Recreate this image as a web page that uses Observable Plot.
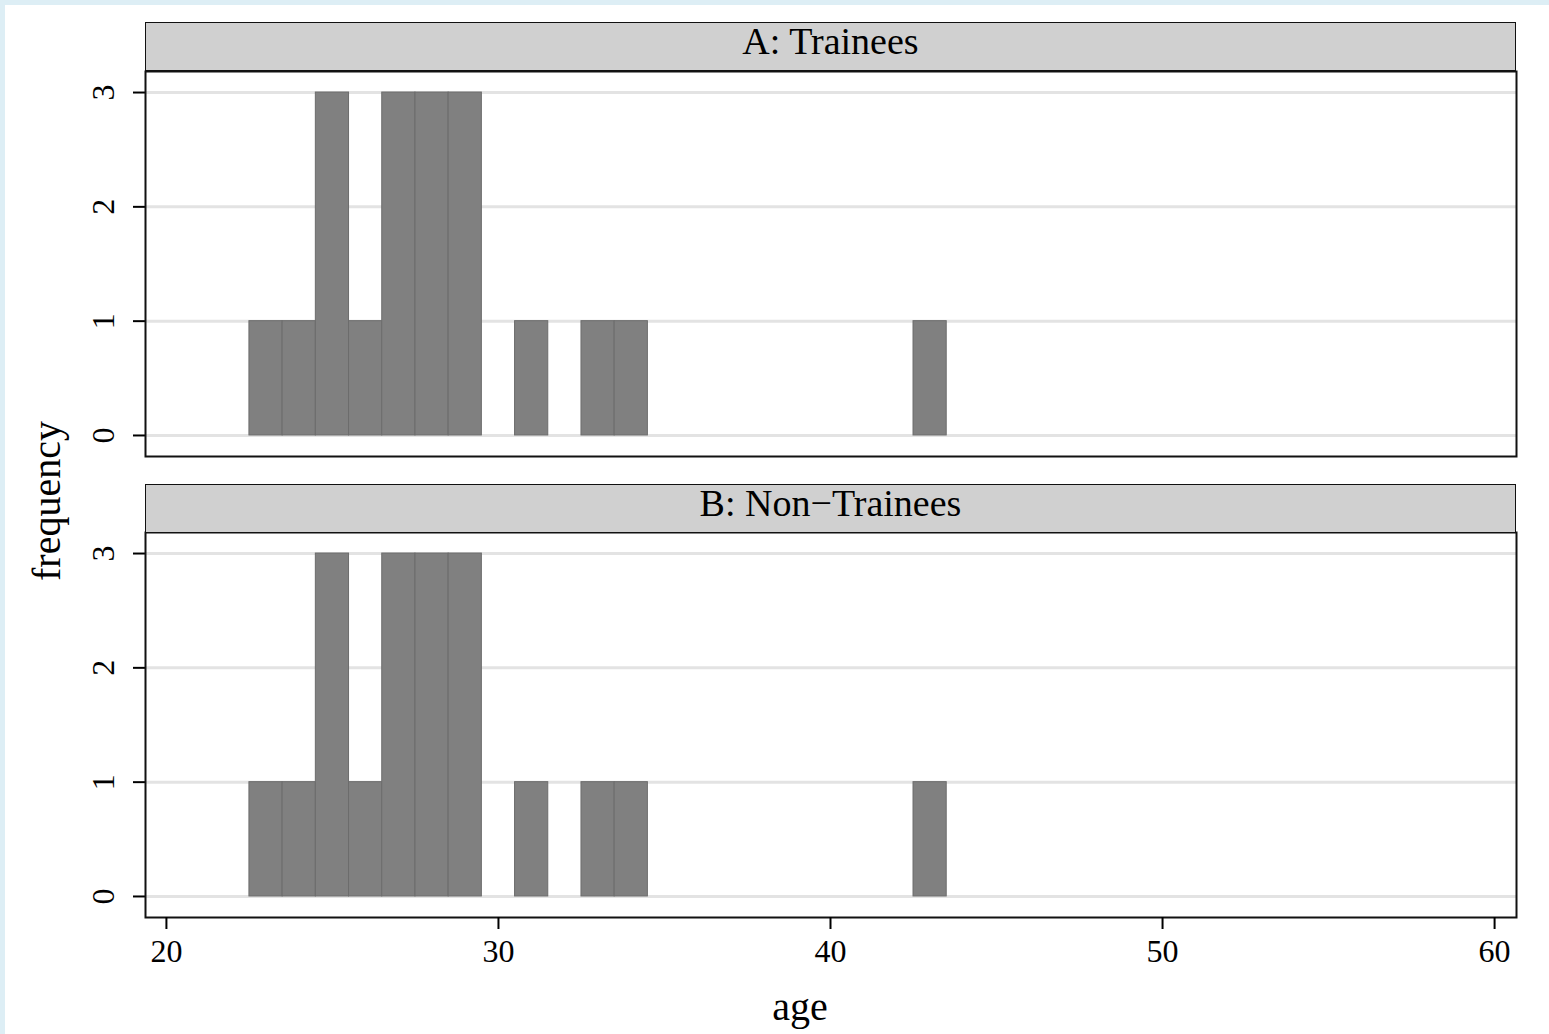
<!DOCTYPE html>
<html>
<head>
<meta charset="utf-8">
<script src="https://cdn.jsdelivr.net/npm/d3@7"></script>
<script src="https://cdn.jsdelivr.net/npm/@observablehq/plot@0.6"></script>
<style>
  html, body { margin: 0; padding: 0; }
  body { background: #ddeef5; width: 1549px; height: 1034px; position: relative; overflow: hidden; font-family: "Liberation Serif", "DejaVu Serif", serif; }
  #paper { position: absolute; left: 5px; top: 5px; width: 1560px; height: 1040px; background: white; }
  .strip { position: absolute; left: 145px; width: 1369px; height: 47px; background: #d0d0d0; border: 1.5px solid #111; box-sizing: content-box; text-align: center; font-size: 38px; line-height: 37px; color: #000; white-space: nowrap; }
  .lab { position: absolute; font-size: 40px; line-height: 40px; height: 40px; color: #000; white-space: nowrap; }
</style>
</head>
<body>
<div id="paper"></div>
<div id="root"></div>
<script>
// ---- data ----
const panels = ["A: Trainees", "B: Non\u2212Trainees"];
const ages = [23, 24, 25, 26, 27, 28, 29, 31, 33, 34, 43];
const trainees = [1, 1, 3, 1, 3, 3, 3, 1, 1, 1, 1];
const nonTrainees = [1, 1, 3, 1, 3, 3, 3, 1, 1, 1, 1];
const yTicks = [0, 1, 2, 3];
const xTicks = [20, 30, 40, 50, 60];
const xLabel = "age";
const yLabel = "frequency";

const binWidth = 1;
const toBins = counts => ages.map((a, i) => ({x1: a - binWidth / 2, x2: a + binWidth / 2, y: counts[i]}));

const xDomain = [19.37, 60.66];
const yDomain = [-0.184, 3.184];
const font = "Liberation Serif";

function panel(data, withXAxis) {
  const marks = [
    Plot.gridY(yTicks, {stroke: "#e3e3e3", strokeWidth: 3, strokeOpacity: 1}),
    Plot.rectY(data, {x1: "x1", x2: "x2", y1: 0, y2: "y", fill: "#808080", stroke: "#6c6c6c", strokeWidth: 1}),
    Plot.axisY(yTicks, {tickSize: 12, tickPadding: 20, tickRotate: -90, fontSize: 32, strokeWidth: 2, label: null, tickFormat: d => String(d)}),
    Plot.frame({stroke: "#111", strokeWidth: 2})
  ];
  if (withXAxis) {
    marks.push(Plot.axisX(xTicks, {tickSize: 12, tickPadding: 10, fontSize: 32, strokeWidth: 2, label: null, tickFormat: d => String(d)}));
  }
  return Plot.plot({
    width: 1549,
    height: withXAxis ? 2 + 385 + 60 : 389,
    marginLeft: 145,
    marginRight: 33,
    marginTop: 2,
    marginBottom: withXAxis ? 60 : 2,
    x: {domain: xDomain, axis: null},
    y: {domain: yDomain, axis: null},
    style: {fontFamily: font, background: "transparent", overflow: "visible", color: "#000"},
    marks
  });
}

const root = document.getElementById("root");
function place(el, top) {
  el.style.position = "absolute";
  el.style.left = "0px";
  el.style.top = top + "px";
  root.appendChild(el);
}

place(panel(toBins(trainees), false), 69);
place(panel(toBins(nonTrainees), true), 530);

function strip(text, top) {
  const d = document.createElement("div");
  d.className = "strip";
  d.style.top = top + "px";
  d.textContent = text;
  root.appendChild(d);
}
strip(panels[0], 22);
strip(panels[1], 484);

const xl = document.createElement("div");
xl.className = "lab";
xl.textContent = xLabel;
xl.style.left = "800px";
xl.style.top = "987px";
xl.style.transform = "translateX(-50%)";
root.appendChild(xl);

const yl = document.createElement("div");
yl.className = "lab";
yl.textContent = yLabel;
yl.style.left = "47px";
yl.style.top = "501px";
yl.style.transform = "translate(-50%, -50%) rotate(-90deg)";
root.appendChild(yl);
</script>
</body>
</html>
